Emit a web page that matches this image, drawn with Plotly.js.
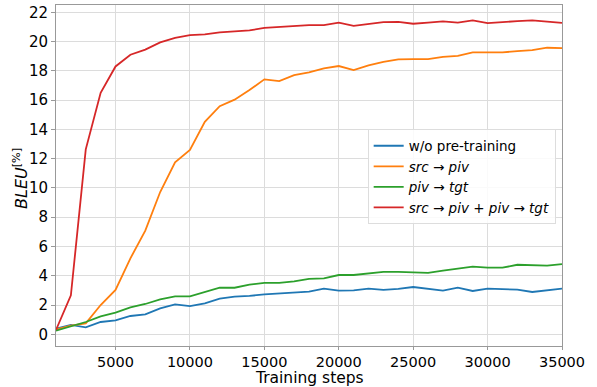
<!DOCTYPE html>
<html>
<head>
<meta charset="utf-8">
<script src="https://cdn.plot.ly/plotly-3.0.1.min.js"></script>
<style>html,body{margin:0;padding:0;background:#fff;}#chart{width:597px;height:387px;}</style>
</head>
<body>
<div id="chart"></div>
<script>
const steps = [1000,2000,3000,4000,5000,6000,7000,8000,9000,10000,11000,12000,13000,14000,15000,16000,17000,18000,19000,20000,21000,22000,23000,24000,25000,26000,27000,28000,29000,30000,31000,32000,33000,34000,35000];
const woPretraining = [0.38,0.64,0.48,0.84,0.95,1.25,1.36,1.77,2.05,1.93,2.12,2.43,2.57,2.62,2.73,2.78,2.87,2.91,3.12,2.98,3.0,3.12,3.03,3.1,3.23,3.1,2.98,3.19,2.96,3.12,3.07,3.05,2.89,3.03,3.12];
const srcPiv = [0.34,0.6,0.75,2.0,3.03,5.19,7.08,9.72,11.75,12.59,14.52,15.59,16.03,16.69,17.42,17.3,17.71,17.9,18.17,18.33,18.05,18.37,18.62,18.78,18.8,18.8,18.96,19.03,19.26,19.24,19.26,19.35,19.42,19.58,19.56];
const pivTgt = [0.25,0.52,0.84,1.23,1.48,1.84,2.07,2.39,2.59,2.59,2.89,3.18,3.18,3.39,3.52,3.52,3.62,3.78,3.82,4.05,4.05,4.17,4.26,4.26,4.24,4.2,4.35,4.48,4.62,4.55,4.55,4.75,4.71,4.69,4.8];
const combined = [0.3,2.66,12.64,16.5,18.3,19.1,19.45,19.95,20.26,20.44,20.49,20.63,20.7,20.76,20.94,21.0,21.1,21.13,21.13,21.3,21.08,21.2,21.33,21.35,21.22,21.3,21.38,21.3,21.45,21.26,21.35,21.4,21.45,21.35,21.28];
const seriesNames = ['w/o pre-training','<i>src</i> → <i>piv</i>','<i>piv</i> → <i>tgt</i>','<i>src</i> → <i>piv</i> + <i>piv</i> → <i>tgt</i>'];
const colors = ['#1f77b4','#ff7f0e','#2ca02c','#d62728'];
const xTicks = [5000,10000,15000,20000,25000,30000,35000];
const yTicks = [0,2,4,6,8,10,12,14,16,18,20,22];
const xTitle = 'Training steps';
const yTitle = '<i>BLEU</i><sup>[%]</sup>';

const ys = [woPretraining, srcPiv, pivTgt, combined];
const traces = ys.map((y,i)=>({x:steps,y:y,type:'scatter',mode:'lines',name:seriesNames[i],line:{color:colors[i],width:1.8}}));
const font = {family:'DejaVu Sans, sans-serif', size:14.5, color:'#000'};
const layout = {
  width:597, height:387,
  margin:{l:56,r:35,t:5,b:41},
  paper_bgcolor:'#fff', plot_bgcolor:'#fff',
  font: font,
  showlegend:true,
  legend:{x:0.9875,y:0.635,xanchor:'right',yanchor:'top',bgcolor:'rgba(255,255,255,0.85)',bordercolor:'#dddddd',borderwidth:1,font:{family:'DejaVu Sans, sans-serif',size:13.5,color:'#000'},tracegroupgap:0},
  xaxis:{range:[1000,35000],tickvals:xTicks,ticktext:xTicks.map(String),showgrid:true,gridcolor:'#dcdcdc',gridwidth:1,zeroline:false,showline:true,mirror:true,linecolor:'#999',linewidth:1,ticks:'outside',ticklen:3,tickcolor:'#999',tickfont:font},
  yaxis:{range:[-0.8,22.5],tickvals:yTicks,showgrid:true,gridcolor:'#dcdcdc',gridwidth:1,zeroline:false,showline:true,mirror:true,linecolor:'#999',linewidth:1,ticks:'outside',ticklen:4,tickcolor:'#999',tickfont:{family:'DejaVu Sans, sans-serif', size:15, color:'#000'}},
  annotations:[
    {text:xTitle,xref:'paper',yref:'paper',x:0.5,y:-0.094,xanchor:'center',yanchor:'middle',showarrow:false,font:{family:'DejaVu Sans, sans-serif',size:15.5,color:'#000'}},
    {text:yTitle,xref:'paper',yref:'paper',x:-0.069,y:0.49,xanchor:'center',yanchor:'middle',textangle:-90,showarrow:false,font:{family:'DejaVu Sans, sans-serif',size:16,color:'#000'}}
  ]
};
Plotly.newPlot('chart', traces, layout, {displayModeBar:false, staticPlot:true});
</script>
</body>
</html>
